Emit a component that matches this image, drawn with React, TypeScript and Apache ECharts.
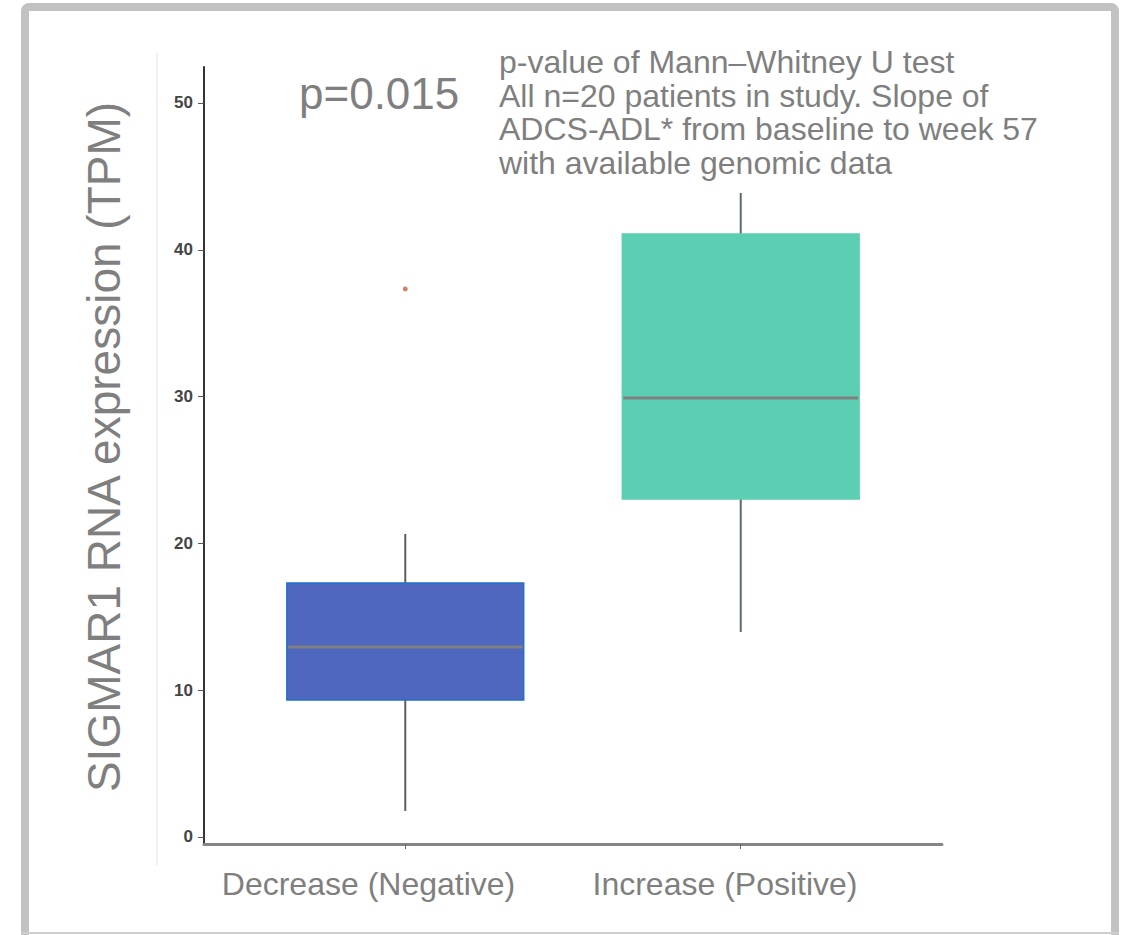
import React, { useEffect, useRef } from "react";
import * as echarts from "echarts";

const categories = ["Decrease (Negative)", "Increase (Positive)"];
const lowWhisker = [1.77, 13.96];
const q1 = [9.33, 23.02];
const median = [12.94, 29.9];
const q3 = [17.3, 41.08];
const highWhisker = [20.64, 43.87];
const outliers: [number, number][] = [[0, 37.33]];
const yTicks = [0, 10, 20, 30, 40, 50];
const pValueText = "p=0.015";
const noteLines = [
  "p-value of Mann\u2013Whitney U test",
  "All n=20 patients in study. Slope of",
  "ADCS-ADL* from baseline to week 57",
  "with available genomic data",
];
const yTitle = "SIGMAR1 RNA expression (TPM)";

const boxFill = ["#5067c0", "#5ccfb2"];
const boxStroke = ["#1f70c8", "#5ccfb2"];
const whiskerColor = ["#5e5e5e", "#5a6b68"];
const gray = "#7f7f7f";
const FONT = "'Liberation Sans', Arial, Helvetica, sans-serif";

export default function App() {
  const ref = useRef<HTMLDivElement>(null);
  useEffect(() => {
    if (!ref.current) return;
    const chart = echarts.init(ref.current, undefined, { renderer: "svg" });
    const boxData = categories.map((_, i) => [i, lowWhisker[i], q1[i], median[i], q3[i], highWhisker[i]]);
    const halfW = 0.353;
    const option: any = {
      animation: false,
      backgroundColor: "#ffffff",
      grid: { left: 204, right: 188, top: 67, bottom: 91 },
      xAxis: {
        type: "value",
        min: 0.4,
        max: 2.6,
        splitLine: { show: false },
        axisLine: { show: true, onZero: false, lineStyle: { color: "#858585", width: 3 } },
        axisTick: { show: true, customValues: [1, 2], length: 5, lineStyle: { color: "#666", width: 1 } },
        axisLabel: { show: false, customValues: [1, 2] },
      },
      yAxis: {
        type: "value",
        min: -0.48,
        max: 52.45,
        splitLine: { show: false },
        axisLine: { show: true, onZero: false, lineStyle: { color: "#333333", width: 2 } },
        axisTick: { show: true, customValues: yTicks, length: 6, lineStyle: { color: "#555", width: 1 } },
        axisLabel: {
          customValues: yTicks,
          margin: 11,
          color: "#454545",
          fontSize: 17,
          fontWeight: "bold",
          fontFamily: FONT,
        },
      },
      series: [
        {
          type: "custom",
          data: boxData,
          renderItem: (params: any, api: any) => {
            const i = api.value(0);
            const xc = i + 1;
            const pLow = api.coord([xc, api.value(1)]);
            const pQ1 = api.coord([xc, api.value(2)]);
            const pMed = api.coord([xc, api.value(3)]);
            const pQ3 = api.coord([xc, api.value(4)]);
            const pHigh = api.coord([xc, api.value(5)]);
            const left = api.coord([xc - halfW, api.value(4)])[0];
            const right = api.coord([xc + halfW, api.value(4)])[0];
            return {
              type: "group",
              children: [
                {
                  type: "line",
                  shape: { x1: pHigh[0], y1: pHigh[1], x2: pQ3[0], y2: pQ3[1] },
                  style: { stroke: whiskerColor[i], lineWidth: 2 },
                },
                {
                  type: "line",
                  shape: { x1: pQ1[0], y1: pQ1[1], x2: pLow[0], y2: pLow[1] },
                  style: { stroke: whiskerColor[i], lineWidth: 2 },
                },
                {
                  type: "rect",
                  shape: { x: left, y: pQ3[1], width: right - left, height: pQ1[1] - pQ3[1] },
                  style: { fill: boxFill[i], stroke: boxStroke[i], lineWidth: 1.5 },
                },
                {
                  type: "line",
                  shape: { x1: left + 1, y1: pMed[1], x2: right - 1, y2: pMed[1] },
                  style: { stroke: "#808080", lineWidth: 3 },
                },
              ],
            };
          },
        },
        {
          type: "scatter",
          data: outliers.map(([c, v]) => [c + 1, v]),
          symbolSize: 5,
          itemStyle: { color: "#c0653c" },
        },
      ],
      graphic: [
        {
          type: "rect",
          z: 100,
          shape: { x: 25, y: 7, width: 1090, height: 960, r: 4 },
          style: { fill: "none", stroke: "#c2c2c2", lineWidth: 8 },
        },
        {
          type: "line",
          z: 100,
          shape: { x1: 21, y1: 933, x2: 1119, y2: 933 },
          style: { stroke: "#cfcfcf", lineWidth: 2 },
        },
        {
          type: "line",
          shape: { x1: 157, y1: 53, x2: 157, y2: 865 },
          style: { stroke: "#ebebeb", lineWidth: 1.5 },
        },
        {
          type: "text",
          x: 104,
          y: 447,
          rotation: Math.PI / 2,
          style: {
            text: yTitle,
            fill: gray,
            font: `46px ${FONT}`,
            align: "center",
            verticalAlign: "middle",
          },
        },
        {
          type: "text",
          x: 299,
          y: 93,
          style: {
            text: pValueText,
            fill: gray,
            font: `44px ${FONT}`,
            align: "left",
            verticalAlign: "middle",
          },
        },
        ...noteLines.map((t, k) => ({
          type: "text",
          x: 499,
          y: 62 + k * 33.5,
          style: {
            text: t,
            fill: gray,
            font: `32px ${FONT}`,
            align: "left",
            verticalAlign: "middle",
          },
        })),
        ...categories.map((c, k) => ({
          type: "text",
          x: k === 0 ? 368.5 : 725,
          y: 884,
          style: {
            text: c,
            fill: gray,
            font: `32px ${FONT}`,
            align: "center",
            verticalAlign: "middle",
          },
        })),
      ],
    };
    chart.setOption(option);
    return () => chart.dispose();
  }, []);
  return (
    <div
      ref={ref}
      style={{ position: "absolute", left: 0, top: 0, width: 1130, height: 935, background: "#fff" }}
    />
  );
}
